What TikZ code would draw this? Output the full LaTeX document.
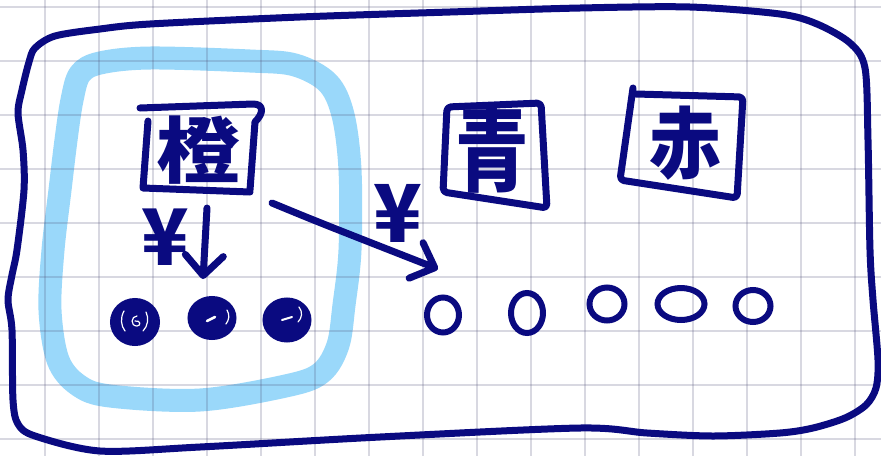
\documentclass[tikz,border=0pt]{standalone}
\usepackage{fontspec}
\usepackage{graphicx}
\newfontfamily\cjk{Noto Sans CJK JP}
\usetikzlibrary{arrows.meta,shapes.geometric}
\definecolor{ink}{RGB}{10,10,128}
\definecolor{marker}{RGB}{154,216,250}
\definecolor{gridc}{RGB}{80,80,120}

\begin{document}
\begin{tikzpicture}[x=1pt,y=-1pt,
  pen/.style={draw=ink,line width=7pt,line cap=round,line join=round},
  hilite/.style={draw=ink,line width=7pt,line cap=round,line join=round,
    -{Straight Barb[length=20pt,width=38pt,round]}},
  glyph/.style={text=ink,inner sep=0pt},
  coin/.style={ellipse,draw=ink,line width=6pt,inner sep=0pt},
  fullcoin/.style={coin,fill=ink},
  shine/.style={draw=white,line width=1.2pt,line cap=round}]

% paper
\fill[white] (0,0) rectangle (881,456);
\useasboundingbox (0,0) rectangle (881,456);

% highlighter band round the first group
\draw[marker,line width=23pt,line cap=round,line join=round]
  plot[smooth cycle,tension=0.55] coordinates {
  (72,100) (80,74) (100,63) (150,58) (250,61) (295,65) (328,83) (343,115)
  (350,170) (350,250) (344,305) (338,345) (322,372) (290,385) (200,400)
  (110,396) (78,385) (58,360) (50,310) (53,250) (60,190) (66,140)};

% squared paper
\foreach \gx in {45,99,...,855}
  \draw[gridc,opacity=0.22,line width=1.1pt] (\gx,0) -- (\gx,456);
\foreach \gy in {7,61,...,439}
  \draw[gridc,opacity=0.22,line width=1.1pt] (0,\gy) -- (881,\gy);

% outer frame
\draw[pen] plot[smooth cycle,tension=0.5] coordinates {
  (35,48) (55,36) (100,29) (150,24) (300,17) (450,12) (580,8) (690,7)
  (780,14) (817,24) (850,43) (865,68) (868,140) (870,250) (873,300)
  (878,360) (876,388) (866,405) (845,418) (813,428) (780,433) (713,436)
  (647,433) (580,428) (380,437) (200,447) (100,451) (35,436) (18,424)
  (13,400) (12,330) (8,300) (12,275) (17,250) (24,190) (23,150) (18,113)
  (22,90) (29,62)};

% box: orange
\draw[pen] (140,108) -- (253,104) .. controls (264,104) and (264,113) .. (255,122) -- (250,190);
\draw[pen] (148,121) -- (143,188) -- (250,192);
\node[glyph] (orange) at (198,150)
  {\cjk\bfseries\fontsize{82}{82}\selectfont\scalebox{1.02}[0.88]{橙}};

% box: blue
\draw[pen,rounded corners=4pt] (447,107) -- (541,103) -- (547,208) -- (443,192) -- cycle;
\node[glyph] (blue) at (492,150)
  {\cjk\bfseries\fontsize{92}{92}\selectfont\scalebox{0.8}[1]{青}};

% box: red
\draw[pen,rounded corners=4pt] (633,88) -- (620,180) -- (737,198) -- (743,97) -- (636,94);
\node[glyph] (red) at (685,143)
  {\cjk\bfseries\fontsize{78}{78}\selectfont\scalebox{0.92}[1]{赤}};

% yen labels
\node[glyph] (yenA) at (165,237) {\cjk\bfseries\fontsize{78}{78}\selectfont ¥};
\node[glyph] (yenB) at (398,213) {\cjk\bfseries\fontsize{80}{80}\selectfont ¥};

% coins
\node[fullcoin,minimum width=44pt,minimum height=42pt] (c1) at (135,322) {};
\node[fullcoin,minimum width=43pt,minimum height=38pt] (c2) at (212,318) {};
\node[fullcoin,minimum width=43pt,minimum height=39pt] (c3) at (287,320) {};
\node[coin,minimum width=32pt,minimum height=35pt] (e1) at (443,315) {};
\node[coin,minimum width=32pt,minimum height=40pt] (e2) at (527,313) {};
\node[coin,minimum width=35pt,minimum height=33pt] (e3) at (607,304) {};
\node[coin,minimum width=47pt,minimum height=32pt] (e4) at (681,304) {};
\node[coin,minimum width=35pt,minimum height=32pt] (e5) at (753,306) {};

% glints on the filled coins
\draw[shine] (124,311) .. controls (120,318) and (121,326) .. (125,331);
\draw[shine] (137,316) .. controls (131,316) and (130,326) .. (137,326) .. controls (141,326) and (141,320) .. (135,321);
\draw[shine] (146,312) .. controls (149,318) and (148,326) .. (143,331);
\draw[shine,line width=2.5pt] (207,321) -- (215,317);
\draw[shine] (227,310) .. controls (230,315) and (229,320) .. (226,324);
\draw[shine,line width=2pt] (282,320) -- (292,317);
\draw[shine] (299,307) .. controls (303,312) and (302,318) .. (298,322);

% payment arrows
\coordinate (downA) at (207,208);
\coordinate (downB) at (203,279);
\coordinate (crossA) at (272,203);
\coordinate (crossB) at (438,269);
\draw[hilite] (downA) -- (downB);
\draw[hilite] (crossA) .. controls (318,222) .. (crossB);

\end{tikzpicture}
\end{document}
